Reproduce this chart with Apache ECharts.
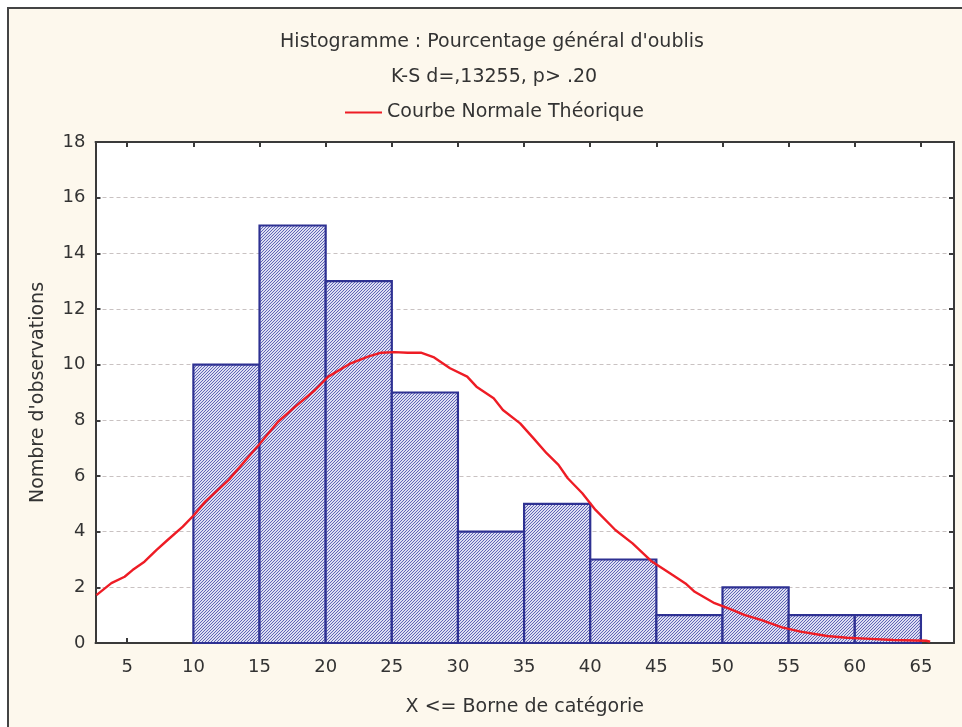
<!DOCTYPE html>
<html>
<head>
<meta charset="utf-8">
<script src="https://cdn.jsdelivr.net/npm/echarts@6/dist/echarts.min.js"></script>
<style>
html,body{margin:0;padding:0;background:#ffffff;}
#chart{width:962px;height:727px;}
</style>
</head>
<body>
<div id="chart"></div>
<script>
// ---- data ----
const binStart = [10, 15, 20, 25, 30, 35, 40, 45, 50, 55, 60];
const binEnd   = [15, 20, 25, 30, 35, 40, 45, 50, 55, 60, 65];
const counts   = [10, 15, 13, 9, 4, 5, 3, 1, 2, 1, 1];
const xTicks   = [5, 10, 15, 20, 25, 30, 35, 40, 45, 50, 55, 60, 65];
const curveX = [2.67, 3.8, 4.8, 5.4, 6.3, 7.2, 8.05, 9.2, 10.05, 10.9, 12.67, 14.4, 15.05, 16.4, 17.7, 19.2, 20.2, 21.9, 23.2, 24.2, 25.2, 26.2, 27.2, 28.2, 29.4, 30.7, 31.4, 32.7, 33.4, 34.7, 35.7, 36.7, 37.6, 38.3, 39.4, 40.4, 41.9, 43.2, 44.6, 46.2, 47.2, 47.9, 49.4, 50.4, 51.7, 52.9, 54.5, 55.9, 57.9, 59.4, 61.2, 62.9, 65.4, 65.7];
const curveY = [1.72, 2.15, 2.38, 2.62, 2.92, 3.34, 3.7, 4.18, 4.6, 5.08, 5.86, 6.82, 7.18, 7.95, 8.49, 9.09, 9.57, 10.05, 10.29, 10.43, 10.45, 10.43, 10.43, 10.26, 9.87, 9.57, 9.21, 8.79, 8.37, 7.89, 7.36, 6.82, 6.4, 5.92, 5.38, 4.78, 4.06, 3.58, 2.95, 2.45, 2.14, 1.84, 1.43, 1.25, 1.0, 0.83, 0.56, 0.41, 0.25, 0.19, 0.15, 0.11, 0.08, 0.05];

const histData = binStart.map((s, i) => [s, binEnd[i], counts[i]]);
const curveData = curveX.map((x, i) => [x, curveY[i]]);

// hatch pattern
const tile = document.createElement('canvas');
tile.width = 3; tile.height = 3;
const tctx = tile.getContext('2d');
tctx.fillStyle = '#dcdef2';
tctx.fillRect(0, 0, 3, 3);
tctx.fillStyle = '#6064b6';
for (let y = 0; y < 3; y++) for (let x = 0; x < 3; x++) if ((x + y) % 3 === 0) tctx.fillRect(x, y, 1, 1);
const hatch = { image: tile, repeat: 'repeat' };

const txt = '#333333';
const font = 'DejaVu Sans, sans-serif';
const fs = 18;
const fsT = 19;
const axisCol = '#3a3a3a';

const chart = echarts.init(document.getElementById('chart'), null, { renderer: 'canvas' });
const option = {
  animation: false,
  backgroundColor: '#ffffff',
  graphic: [
    { type: 'rect', z: -10, shape: { x: 8, y: 8, width: 1000, height: 800 },
      style: { fill: '#fdf8ed', stroke: '#444444', lineWidth: 2 } },
    { type: 'rect', z: -9, shape: { x: 95.5, y: 142, width: 858.5, height: 501 },
      style: { fill: '#ffffff' } }
  ],
  title: [
    { text: "Histogramme : Pourcentage général d'oublis", left: 487, top: 28, textAlign: 'center',
      textStyle: { fontFamily: font, fontSize: fsT, fontWeight: 'normal', color: txt } },
    { text: 'K-S d=,13255, p> .20', left: 489, top: 63, textAlign: 'center',
      textStyle: { fontFamily: font, fontSize: fsT, fontWeight: 'normal', color: txt } }
  ],
  legend: {
    data: ['Courbe Normale Théorique'],
    left: 340, top: 98,
    icon: 'rect', itemWidth: 37, itemHeight: 2, itemGap: 10,
    textStyle: { fontFamily: font, fontSize: fsT, color: txt }
  },
  grid: { left: 95.5, top: 142, right: 8, bottom: 84, containLabel: false },
  xAxis: [
    { type: 'value', min: 2.6, max: 67.5, position: 'bottom',
      name: 'X <= Borne de catégorie', nameLocation: 'middle', nameGap: 55,
      nameTextStyle: { fontFamily: font, fontSize: fsT, color: txt },
      axisLine: { onZero: false, lineStyle: { color: axisCol, width: 2 } },
      axisTick: { inside: true, length: 5, customValues: xTicks, lineStyle: { color: axisCol, width: 2 } },
      axisLabel: { customValues: xTicks, margin: 15, fontFamily: font, fontSize: fs, color: txt },
      splitLine: { show: false } },
    { type: 'value', min: 2.6, max: 67.5, position: 'top',
      axisLine: { onZero: false, lineStyle: { color: axisCol, width: 2 } },
      axisTick: { inside: true, length: 5, customValues: xTicks, lineStyle: { color: axisCol, width: 2 } },
      axisLabel: { show: false }, splitLine: { show: false } }
  ],
  yAxis: [
    { type: 'value', min: 0, max: 18, interval: 2, position: 'left',
      name: "Nombre d'observations", nameLocation: 'middle', nameGap: 48, nameRotate: 90,
      nameTextStyle: { fontFamily: font, fontSize: fsT, color: txt },
      axisLine: { show: true, onZero: false, lineStyle: { color: axisCol, width: 2 } },
      axisTick: { show: true, inside: true, length: 5, lineStyle: { color: axisCol, width: 2 } },
      axisLabel: { margin: 10, fontFamily: font, fontSize: fs, color: txt },
      splitLine: { show: true, lineStyle: { color: '#c9c2c2', type: [4, 3], width: 1 } } },
    { type: 'value', min: 0, max: 18, interval: 2, position: 'right',
      axisLine: { show: true, onZero: false, lineStyle: { color: axisCol, width: 2 } },
      axisTick: { show: true, inside: true, length: 5, lineStyle: { color: axisCol, width: 2 } },
      axisLabel: { show: false }, splitLine: { show: false } }
  ],
  series: [
    {
      type: 'custom', name: 'hist', xAxisIndex: 0, yAxisIndex: 0,
      data: histData, encode: { x: [0, 1], y: 2 }, z: 2,
      renderItem: function (params, api) {
        const p0 = api.coord([api.value(0), api.value(2)]);
        const p1 = api.coord([api.value(1), 0]);
        return {
          type: 'rect',
          shape: { x: p0[0], y: p0[1], width: p1[0] - p0[0], height: p1[1] - p0[1] },
          style: { fill: hatch, stroke: '#2e3192', lineWidth: 2.2 }
        };
      }
    },
    {
      type: 'line', name: 'Courbe Normale Théorique', xAxisIndex: 0, yAxisIndex: 0,
      data: curveData, showSymbol: false, symbol: 'none', smooth: false, z: 5,
      lineStyle: { color: '#ee1c25', width: 2.4 }, itemStyle: { color: '#ee1c25' }
    }
  ]
};
chart.setOption(option);
</script>
</body>
</html>
